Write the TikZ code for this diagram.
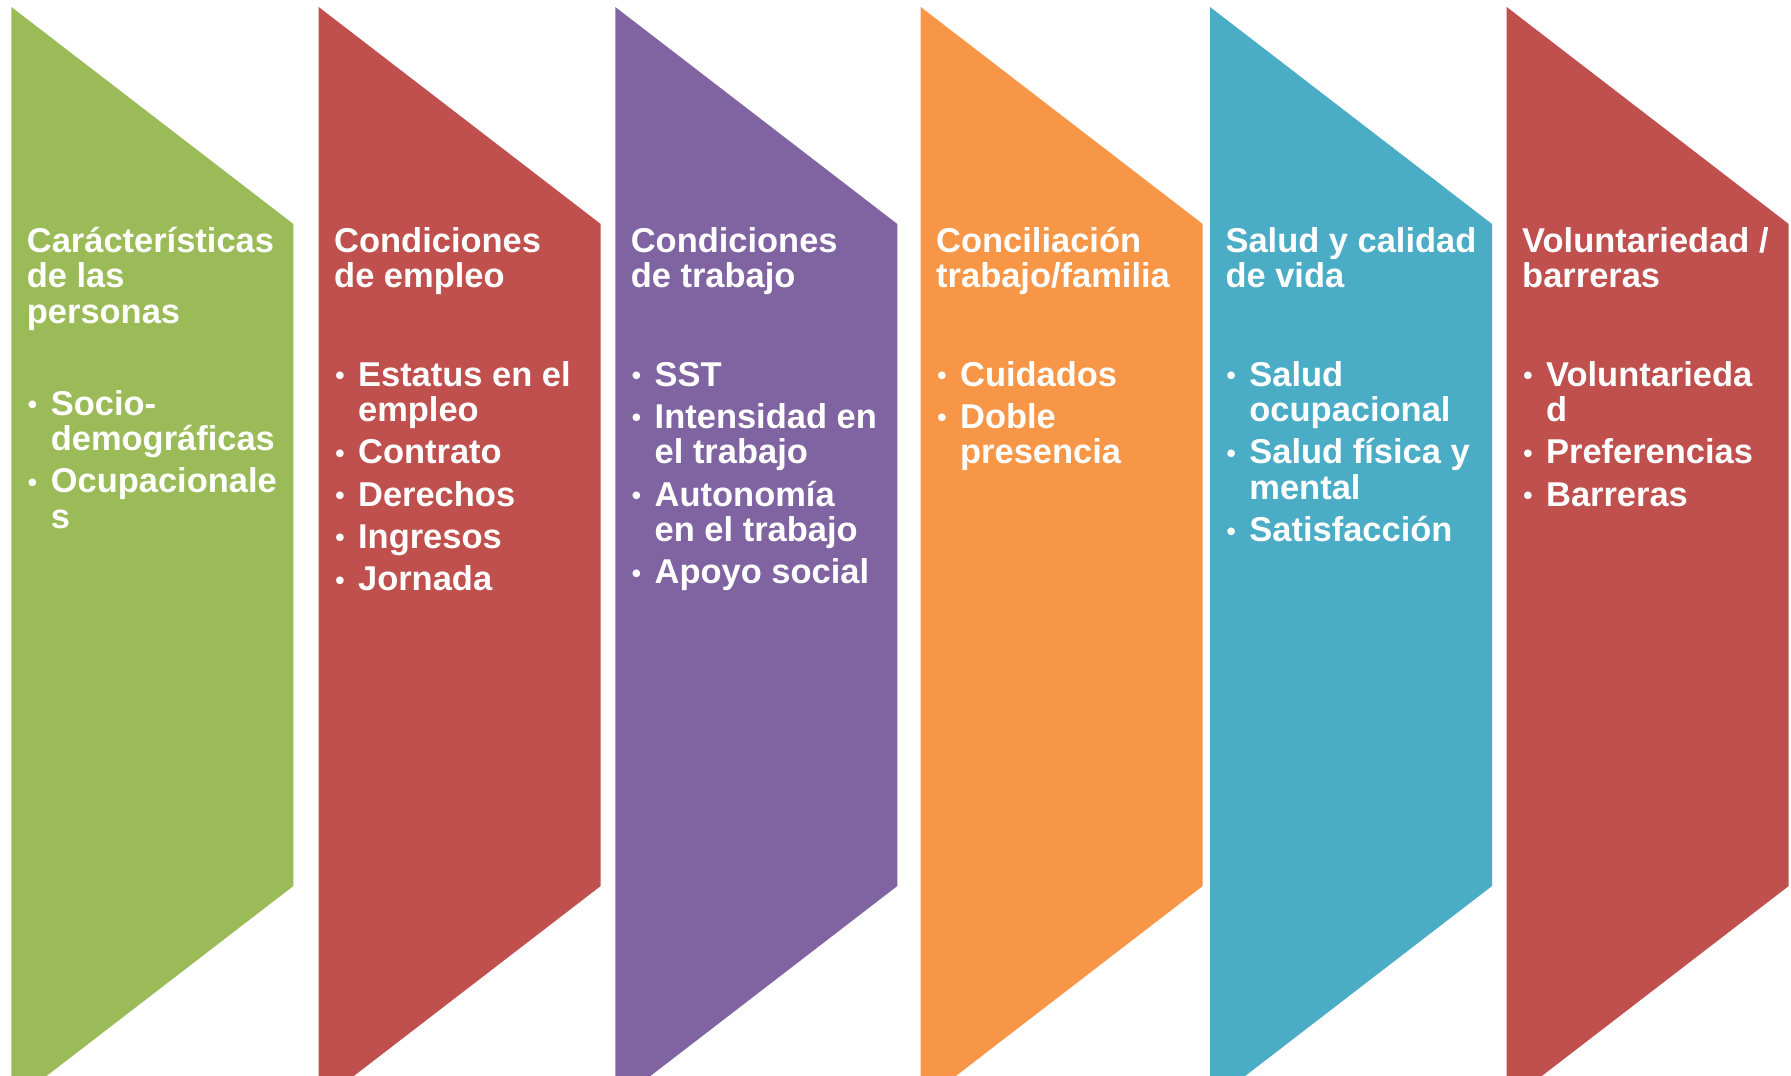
\documentclass[tikz,border=0pt]{standalone}
\usepackage{fontspec}
\setmainfont{Liberation Sans}
\definecolor{verde}{HTML}{9BBB59}
\definecolor{rojo}{HTML}{C0504D}
\definecolor{morado}{HTML}{8064A2}
\definecolor{naranja}{HTML}{F79646}
\definecolor{azul}{HTML}{4BACC6}
\newlength{\itmind}
\setlength{\itmind}{6.8pt}
\newcommand{\itm}[1]{\hangindent=\itmind\hangafter=1\noindent\hbox to\itmind{\hspace{0.3pt}\raisebox{0.4pt}{\fontsize{7.5}{7.5}\selectfont •}\hss}#1\par}
\begin{document}
\begin{tikzpicture}[x=0.01cm,y=-0.01cm,
        band/.style={fill=#1},
        titulo/.style={anchor=base west,inner sep=0pt,text width=80pt,align=flush left,text=white,font=\fontsize{9.8}{10.15}\selectfont\bfseries},
        lista/.style={titulo,execute at begin node={\setlength{\parskip}{1.85pt}}}]
        \useasboundingbox (0,0) rectangle (1791,1075);
        \clip (0,0) rectangle (1791,1075);
        \fill[band=verde] (11.4,7) -- ++(282,217) -- ++(0,662) -- ++(-282,217) -- cycle;
        \fill[band=rojo] (318.7,7) -- ++(282,217) -- ++(0,662) -- ++(-282,217) -- cycle;
        \fill[band=morado] (615.3,7) -- ++(282,217) -- ++(0,662) -- ++(-282,217) -- cycle;
        \fill[band=naranja] (920.7,7) -- ++(282,217) -- ++(0,662) -- ++(-282,217) -- cycle;
        \fill[band=azul] (1210,7) -- ++(282,217) -- ++(0,662) -- ++(-282,217) -- cycle;
        \fill[band=rojo] (1506.7,7) -- ++(282,217) -- ++(0,662) -- ++(-282,217) -- cycle;

        \node (personas) [titulo] at (26.2,252) {Carácterísticas\\de las\\personas};
        \node (empleo) [titulo] at (333.5,252) {Condiciones\\de empleo};
        \node (trabajo) [titulo] at (630.1,252) {Condiciones\\de trabajo};
        \node (conciliacion) [titulo] at (935.5,252) {Conciliación\\trabajo/familia};
        \node (salud) [titulo] at (1224.8,252) {Salud y calidad\\de vida};
        \node (voluntariedad) [titulo] at (1521.5,252) {Voluntariedad /\\barreras};

        \node (personas-items) [lista] at (26.2,415) {\itm{Socio-\newline demográficas}\itm{Ocupacionale\newline s}};
        \node (empleo-items) [lista] at (333.5,386) {\itm{Estatus en el\newline empleo}\itm{Contrato}\itm{Derechos}\itm{Ingresos}\itm{Jornada}};
        \node (trabajo-items) [lista] at (630.1,386) {\itm{SST}\itm{Intensidad en\newline el trabajo}\itm{Autonomía\newline en el trabajo}\itm{Apoyo social}};
        \node (conciliacion-items) [lista] at (935.5,386) {\itm{Cuidados}\itm{Doble\newline presencia}};
        \node (salud-items) [lista] at (1224.8,386) {\itm{Salud\newline ocupacional}\itm{Salud física y\newline mental}\itm{Satisfacción}};
        \node (voluntariedad-items) [lista] at (1521.5,386) {\itm{Voluntarieda\newline d}\itm{Preferencias}\itm{Barreras}};
    \end{tikzpicture}
\end{document}
